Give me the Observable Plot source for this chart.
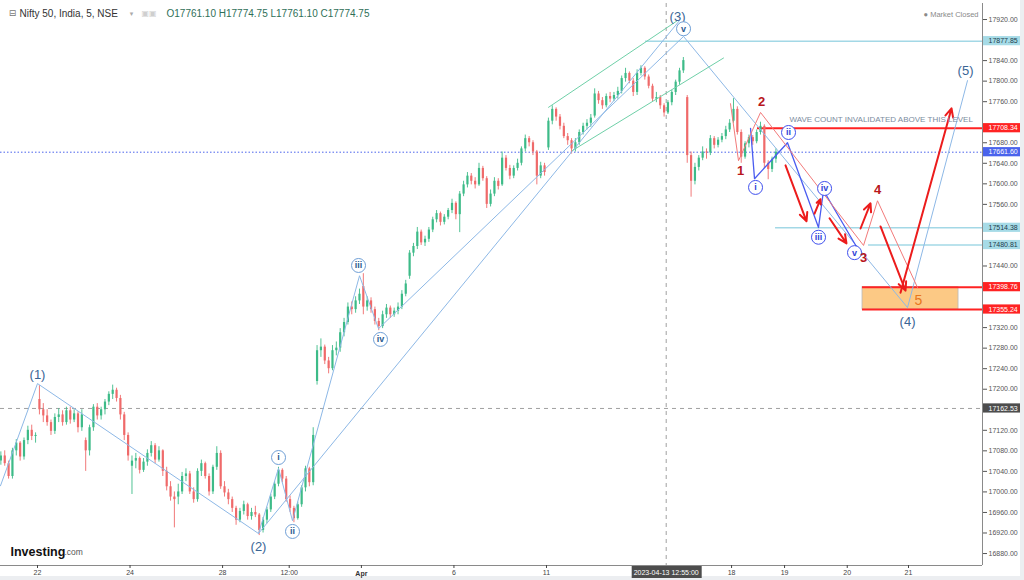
<!DOCTYPE html>
<html><head><meta charset="utf-8">
<script src="https://cdn.jsdelivr.net/npm/d3@7"></script>
<script src="https://cdn.jsdelivr.net/npm/@observablehq/plot@0.6"></script>
<style>
html,body{margin:0;padding:0;background:#eceef1;}
#wrap{position:relative;width:1024px;height:580px;overflow:hidden;}
#bg{position:absolute;left:0;top:0;width:1020px;height:576px;background:#fff;}
#chart{position:absolute;left:0;top:0;}
</style></head><body>
<div id="wrap"><div id="bg"></div><div id="chart"></div></div>
<script>
// ---- candle data: 12 bars per session, [open, high, low, close] ----
const mar21 = [[17060,17078,17052,17070],[17070,17080,17050,17055],[17055,17060,17025,17030],[17030,17085,17025,17080],[17080,17102,17070,17095],[17095,17098,17060,17068],[17068,17105,17062,17100],[17100,17128,17092,17120],[17120,17130,17100,17108],[17108,17115,17095,17110]];
const mar22 = [[17180,17207,17150,17160],[17160,17172,17135,17148],[17148,17160,17128,17135],[17135,17140,17110,17118],[17118,17152,17112,17145],[17145,17162,17135,17150],[17150,17158,17128,17135],[17135,17165,17130,17158],[17158,17165,17132,17140],[17140,17160,17135,17152],[17152,17156,17115,17125],[17125,17160,17118,17150]];
const mar23 = [[17100,17105,17040,17080],[17080,17130,17070,17125],[17125,17170,17118,17165],[17165,17172,17140,17148],[17148,17165,17140,17160],[17160,17180,17150,17175],[17175,17195,17168,17190],[17190,17208,17180,17198],[17198,17202,17175,17182],[17182,17188,17140,17150],[17150,17155,17100,17110],[17110,17115,17060,17070]];
const mar24 = [[17050,17070,16995,17060],[17060,17075,17045,17065],[17065,17068,17035,17042],[17042,17065,17038,17058],[17058,17082,17050,17075],[17075,17098,17068,17090],[17090,17094,17055,17062],[17062,17088,17058,17080],[17080,17082,17030,17040],[17040,17048,17002,17010],[17010,17020,16982,16990],[16990,17000,16930,16985]];
const mar27 = [[16990,17015,16975,17000],[17000,17038,16995,17030],[17030,17045,17020,17035],[17035,17040,16995,17000],[17000,17008,16978,16985],[16985,17045,16980,17040],[17040,17062,17030,17055],[17055,17058,17025,17030],[17030,17035,16992,17000],[17000,17052,16995,17048],[17048,17088,17042,17075],[17075,17080,17005,17010]];
const mar28 = [[17010,17020,16990,16998],[16998,17005,16975,16985],[16985,16990,16960,16968],[16968,16972,16935,16945],[16945,16968,16940,16962],[16962,16982,16955,16975],[16975,16978,16945,16952],[16952,16968,16945,16960],[16960,16972,16950,16955],[16955,16958,16915,16925],[16925,16950,16920,16945],[16945,16970,16938,16965]];
const mar29 = [[16965,16995,16960,16990],[16990,17020,16985,17015],[17015,17048,17010,17042],[17042,17045,17018,17025],[17025,17030,16980,16985],[16985,16992,16960,16968],[16968,16972,16940,16948],[16948,16980,16945,16975],[16975,17012,16970,17008],[17008,17050,17000,17045],[17045,17048,17010,17018],[17018,17125,17012,17110]];
const mar31 = [[17215,17285,17208,17275],[17275,17298,17262,17282],[17282,17286,17248,17255],[17255,17262,17230,17240],[17240,17285,17236,17275],[17275,17292,17265,17280],[17280,17318,17272,17310],[17310,17338,17302,17330],[17330,17368,17325,17360],[17360,17370,17345,17355],[17355,17380,17348,17372],[17372,17395,17365,17385]];
const apr03 = [[17400,17425,17345,17360],[17360,17380,17352,17372],[17372,17378,17348,17355],[17355,17360,17325,17332],[17332,17338,17314,17322],[17322,17352,17318,17345],[17345,17365,17338,17358],[17358,17362,17338,17345],[17345,17358,17340,17352],[17352,17368,17345,17360],[17360,17392,17355,17385],[17385,17412,17380,17405]];
const apr05 = [[17420,17470,17414,17465],[17465,17484,17458,17478],[17478,17515,17472,17506],[17506,17510,17480,17485],[17485,17498,17478,17492],[17492,17515,17486,17510],[17510,17535,17505,17530],[17530,17548,17524,17542],[17542,17545,17518,17525],[17525,17540,17520,17535],[17535,17552,17530,17548],[17548,17570,17542,17562]];
const apr06 = [[17562,17565,17530,17540],[17540,17585,17505,17580],[17580,17605,17575,17598],[17598,17622,17592,17615],[17615,17620,17598,17605],[17605,17612,17590,17598],[17598,17640,17595,17630],[17630,17634,17605,17610],[17610,17614,17552,17560],[17560,17588,17555,17580],[17580,17612,17575,17605],[17605,17610,17588,17595]];
const apr10 = [[17598,17662,17595,17650],[17650,17655,17625,17630],[17630,17636,17608,17615],[17615,17635,17610,17630],[17630,17648,17625,17640],[17640,17672,17635,17668],[17668,17695,17662,17688],[17688,17692,17672,17680],[17680,17684,17655,17662],[17662,17665,17598,17615],[17615,17642,17610,17635],[17635,17640,17615,17622]];
const apr11 = [[17670,17728,17665,17722],[17722,17752,17715,17745],[17745,17748,17722,17730],[17730,17735,17705,17712],[17712,17718,17688,17692],[17692,17698,17675,17684],[17684,17688,17658,17668],[17668,17688,17662,17680],[17680,17705,17675,17700],[17700,17718,17695,17712],[17712,17725,17705,17718],[17718,17735,17710,17728]];
const apr12 = [[17732,17785,17728,17775],[17775,17780,17755,17762],[17762,17768,17745,17752],[17752,17775,17748,17770],[17770,17778,17758,17765],[17765,17778,17760,17772],[17772,17788,17765,17780],[17780,17810,17775,17805],[17805,17825,17798,17815],[17815,17818,17795,17800],[17800,17805,17770,17778],[17778,17822,17772,17815]];
const apr13 = [[17815,17830,17810,17825],[17825,17828,17802,17808],[17808,17812,17785,17790],[17790,17794,17760,17765],[17765,17778,17758,17768],[17768,17772,17745,17752],[17752,17756,17730,17738],[17738,17762,17735,17758],[17758,17782,17752,17778],[17778,17802,17772,17798],[17798,17825,17792,17820],[17820,17846,17815,17840]];
const apr17 = [[17768,17772,17640,17655],[17655,17662,17574,17605],[17605,17640,17598,17632],[17632,17655,17625,17650],[17650,17672,17645,17662],[17662,17668,17648,17660],[17660,17694,17655,17688],[17688,17692,17668,17675],[17675,17690,17670,17685],[17685,17698,17680,17692],[17692,17712,17686,17705],[17705,17725,17700,17718]];
const apr18 = [[17722,17766,17718,17745],[17745,17750,17695,17700],[17700,17705,17640,17652],[17652,17682,17648,17678],[17678,17695,17670,17690],[17690,17694,17675,17682],[17682,17705,17678,17700],[17700,17720,17695,17712],[17712,17715,17630,17640],[17640,17645,17608,17628],[17628,17652,17622,17648],[17648,17668,17640,17661.6]];

// session index (trading-day units) and first bar slot of each session
const sessions = [
  {idx:-1, first:2, bars:mar21},{idx:0, first:0, bars:mar22},{idx:1, first:0, bars:mar23},
  {idx:2, first:0, bars:mar24},{idx:3, first:0, bars:mar27},{idx:4, first:0, bars:mar28},
  {idx:5, first:0, bars:mar29},{idx:6, first:0, bars:mar31},{idx:7, first:0, bars:apr03},
  {idx:8, first:0, bars:apr05},{idx:9, first:0, bars:apr06},{idx:10, first:0, bars:apr10},
  {idx:11, first:0, bars:apr11},{idx:12, first:0, bars:apr12},{idx:13, first:0, bars:apr13},
  {idx:14, first:0, bars:apr17},{idx:15, first:0, bars:apr18}
];
const BARS_PER_DAY = 12;

// x-axis ticks (session units) and labels
const xTickVals = [0, 2, 4, 5.44, 7, 9, 11, 15, 16.145, 17.5, 18.824];
const xTickText = ["22","24","28","12:00","Apr","6","11","18","19","20","21"];

// y axis ticks
const yTickAll = d3.range(16880, 17921, 40);

// horizontal levels
const levelValues = [17877.85, 17708.34, 17661.60, 17514.38, 17480.81, 17398.76, 17355.24, 17162.53];
const levelStart  = [13.14, 15.56, null, 15.95, 17.96, 17.83, 17.83, null];
const levelKind   = ["target","invalid","last","target","target","zone","zone","cross"];

// target zone
const zone = {t1: 17.83, t2: 19.905, v1: 17355.24, v2: 17398.76};

// crosshair
const crossT = 13.587, crossLabel = "2023-04-13 12:55:00";

// wave drawings [t, price]
const mainWave = [[-0.8,17012],[0,17211],[4.776,16919],[5.209,17046],[5.511,16944],[6.959,17421],[7.370,17318],[13.962,17887],[18.803,17359],[20.099,17801]];
const wave2to3 = [[4.776,16919],[13.875,17918]];
const channelUpper = [[11.044,17749],[13.832,17918]];
const channelLower = [[11.562,17665],[14.826,17845]];
const minorWave = [[15.410,17708],[15.496,17610],[16.209,17680],[16.879,17515],[16.987,17587],[17.722,17474]];
const redWave = [[14.977,17756],[15.150,17645],[15.626,17739],[17.852,17480],[18.154,17567],[19.019,17398]];
const arrows = [[16.166,17636,16.620,17527],[16.793,17542,16.922,17570],[17.117,17533,17.484,17484],[17.787,17513,18.003,17562],[18.219,17517,18.759,17392],[18.651,17388,19.754,17747]];

const waveLabels = [[0,17229,"(1)"],[4.776,16894,"(2)"],[13.832,17926,"(3)"],[18.803,17332,"(4)"],[20.056,17821,"(5)"]];
const circleMain = [[5.209,17067,"i"],[5.511,16923,"ii"],[6.938,17441,"iii"],[7.413,17297,"iv"],[13.962,17902,"v"]];
const circleMinor = [[15.518,17593,"i"],[16.231,17700,"ii"],[16.879,17496,"iii"],[17.010,17591,"iv"],[17.657,17466,"v"]];
const redNums = [[15.193,17626,"1"],[15.647,17760,"2"],[17.852,17456,"3"],[18.154,17589,"4"]];
const orangeNum = [[19.04,17373,"5"]];
const noteText = [[16.25,17725,"WAVE COUNT INVALIDATED ABOVE THIS LEVEL"]];

const titleText = "Nifty 50, India, 5, NSE";
const ohlcText = "O17761.10 H17774.75 L17761.10 C17774.75";

// ---- build ----
const candles = sessions.flatMap(s => s.bars.map((b, i) => ({
  t: s.idx + (s.first + i + 0.5) / BARS_PER_DAY, o: b[0], h: b[1], l: b[2], c: b[3]
})));
const UP = "#3dbb88", DN = "#ef6a6a";
const col = d => d.c >= d.o ? UP : DN;

const tMin = -0.7997, tMax = 20.423;
const yMin = 16856.7, yMax = 17951.2;
const W = 1024, H = 580, mL = 0, mR = 42, mT = 3, mB = 15;
const pxPerPt = (H - mT - mB) / (yMax - yMin);
const boxHalf = 4.6 / pxPerPt;
// hide axis ticks that sit under a price label box
const yTicks = yTickAll.filter(t => levelValues.every(v => Math.abs(t - v) * pxPerPt > 8.5));

const kindStyle = {
  target: {stroke:"#a3d8e6", w:1.5, dash:null, box:"#a6dbe7", ink:"#1d3c4c"},
  invalid:{stroke:"#ff2323", w:2, dash:null, box:"#ff2323", ink:"#ffffff"},
  zone:   {stroke:"#ff2323", w:2, dash:null, box:"#ff2323", ink:"#ffffff"},
  last:   {stroke:"#4a63ec", w:1, dash:"1.5,2", box:"#4a63ec", ink:"#ffffff"},
  cross:  {stroke:"#a0a0a0", w:1, dash:"4,4", box:"#4d4d4d", ink:"#ffffff"}
};
const levels = levelValues.map((v, i) => ({v, t0: levelStart[i] ?? tMin, kind: levelKind[i]}));

const P = (a) => a.map(d => ({t: d[0], v: d[1], s: d[2]}));
const lineOpts = (stroke, w) => ({x: d => d[0], y: d => d[1], stroke, strokeWidth: w});

const marks = [];
marks.push(Plot.rect([zone], {x1:"t1", x2:"t2", y1:"v1", y2:"v2", fill:"#fcc985", stroke:"#b9b9b9", strokeWidth:0.8}));
levels.forEach(l => {
  const st = kindStyle[l.kind];
  marks.push(Plot.ruleY([l], {y:"v", x1:"t0", x2: tMax, stroke: st.stroke, strokeWidth: st.w, strokeDasharray: st.dash}));
});
marks.push(Plot.ruleX([crossT], {stroke:"#a0a0a0", strokeDasharray:"4,4", strokeWidth:1}));
marks.push(Plot.ruleX([tMax], {stroke:"#8a8a8a", strokeWidth:1}));
marks.push(Plot.ruleY([yMin], {stroke:"#8a8a8a", strokeWidth:1}));
// candles
marks.push(Plot.ruleX(candles, {x:"t", y1:"l", y2:"h", stroke: col, strokeWidth: 0.9}));
marks.push(Plot.ruleX(candles, {x:"t", y1:"o", y2: d => (Math.abs(d.c - d.o) < 1.5 ? d.o + 1.5 : d.c), stroke: col, strokeWidth: 2.2}));
// wave lines
marks.push(Plot.line(mainWave, lineOpts("#8db8e6", 1)));
marks.push(Plot.line(wave2to3, lineOpts("#8db8e6", 1)));
marks.push(Plot.line(channelUpper, lineOpts("#6fd0a8", 1)));
marks.push(Plot.line(channelLower, lineOpts("#6fd0a8", 1)));
marks.push(Plot.line(minorWave, lineOpts("#4a5cf0", 1.3)));
marks.push(Plot.line(redWave, lineOpts("#f27a7a", 1)));
marks.push(Plot.arrow(arrows, {x1: d=>d[0], y1: d=>d[1], x2: d=>d[2], y2: d=>d[3], stroke:"#ec1c1c", strokeWidth:2, headLength:7, headAngle:50}));
// labels
marks.push(Plot.text(P(waveLabels), {x:"t", y:"v", text:"s", fill:"#3a6595", fontSize:13, lineAnchor:"middle"}));
marks.push(Plot.dot(P(circleMain), {x:"t", y:"v", r:7, fill:"#fff", stroke:"#6f9fd6", strokeWidth:1}));
marks.push(Plot.text(P(circleMain), {x:"t", y:"v", text:"s", fill:"#2d5b92", fontSize:9, fontWeight:"bold", lineAnchor:"middle"}));
marks.push(Plot.dot(P(circleMinor), {x:"t", y:"v", r:7, fill:"#fff", stroke:"#3f50ee", strokeWidth:1}));
marks.push(Plot.text(P(circleMinor), {x:"t", y:"v", text:"s", fill:"#3142d8", fontSize:9, fontWeight:"bold", lineAnchor:"middle"}));
marks.push(Plot.text(P(redNums), {x:"t", y:"v", text:"s", fill:"#b8161c", fontSize:13, fontWeight:"bold", lineAnchor:"middle"}));
marks.push(Plot.text(P(orangeNum), {x:"t", y:"v", text:"s", fill:"#e8761c", fontSize:14, lineAnchor:"middle"}));
marks.push(Plot.text(P(noteText), {x:"t", y:"v", text:"s", fill:"#7b8ca0", fontSize:8, textAnchor:"start", lineAnchor:"middle"}));
// axes
marks.push(Plot.axisY(yTicks, {anchor:"right", tickSize:4, tickPadding:2, tickFormat: d3.format(".2f"), fontSize:7, color:"#555"}));
const aprT = xTickVals[xTickText.indexOf("Apr")];
marks.push(Plot.axisX(xTickVals.filter(v => v !== aprT), {anchor:"bottom", tickSize:3, tickPadding:2, fontSize:7, color:"#444",
  tickFormat: d => xTickText[xTickVals.indexOf(d)]}));
marks.push(Plot.tickX([aprT], {x: d=>d, frameAnchor:"bottom", stroke:"#444", insetTop: 562, insetBottom: -3}));
marks.push(Plot.text(["Apr"], {x: aprT, frameAnchor:"bottom", dy:8, text: d=>d, fontSize:7, fontWeight:"bold", fill:"#333", lineAnchor:"middle"}));
// price label boxes
levels.forEach(l => {
  const st = kindStyle[l.kind];
  marks.push(Plot.rect([l], {y1: d => d.v - boxHalf, y2: d => d.v + boxHalf, insetLeft: 983, insetRight: -38, fill: st.box}));
  marks.push(Plot.text([l], {y:"v", text: d => d.v.toFixed(2), frameAnchor:"right", dx:6, textAnchor:"start", fontSize:7, fill: st.ink, lineAnchor:"middle"}));
});
// crosshair date box
marks.push(Plot.rect([crossT], {x1: d=>d, x2: d=>d, insetTop: 563, insetBottom: -13, insetLeft: -34, insetRight: -36, fill:"#4d4d4d"}));
marks.push(Plot.text([crossLabel], {x: crossT, frameAnchor:"bottom", dy:7, text: d=>d, fontSize:7, fill:"#fff", lineAnchor:"middle"}));
// header
marks.push(Plot.text(["⊟"], {frameAnchor:"top-left", dx:12, dy:10, text:d=>d, fontSize:9, fill:"#777", fontFamily:"DejaVu Sans", textAnchor:"middle", lineAnchor:"middle"}));
marks.push(Plot.text([titleText], {frameAnchor:"top-left", dx:19, dy:10, text:d=>d, fontSize:10, fill:"#333", textAnchor:"start", lineAnchor:"middle"}));
marks.push(Plot.text(["▾"], {frameAnchor:"top-left", dx:131, dy:10, text:d=>d, fontSize:7, fill:"#aaa", fontFamily:"DejaVu Sans", textAnchor:"middle", lineAnchor:"middle"}));
marks.push(Plot.text(["▣▣"], {frameAnchor:"top-left", dx:141, dy:10, text:d=>d, fontSize:8, fill:"#cfcfcf", fontFamily:"DejaVu Sans", textAnchor:"start", lineAnchor:"middle"}));
marks.push(Plot.text([ohlcText], {frameAnchor:"top-left", dx:166, dy:10, text:d=>d, fontSize:10, fill:"#2f6f58", textAnchor:"start", lineAnchor:"middle"}));
marks.push(Plot.text(["● Market Closed"], {frameAnchor:"top-right", dx:-4, dy:11, text:d=>d, fontSize:7.5, fill:"#8a8a8a", textAnchor:"end", lineAnchor:"middle"}));
// logo
marks.push(Plot.text(["Investing"], {frameAnchor:"bottom-left", dx:10, dy:-14, text:d=>d, fontSize:12.5, fontWeight:"bold", fill:"#111", textAnchor:"start", lineAnchor:"middle", letterSpacing:"-0.4px"}));
marks.push(Plot.text([".com"], {frameAnchor:"bottom-left", dx:64, dy:-13, text:d=>d, fontSize:8.5, fill:"#555", textAnchor:"start", lineAnchor:"middle"}));

const chart = Plot.plot({
  width: W, height: H, marginLeft: mL, marginRight: mR, marginTop: mT, marginBottom: mB,
  x: {domain: [tMin, tMax], axis: null},
  y: {domain: [yMin, yMax], axis: null},
  style: {fontFamily: "Liberation Sans, Arial, sans-serif", background: "transparent", overflow: "visible"},
  marks
});
document.getElementById("chart").appendChild(chart);
</script></body></html>
